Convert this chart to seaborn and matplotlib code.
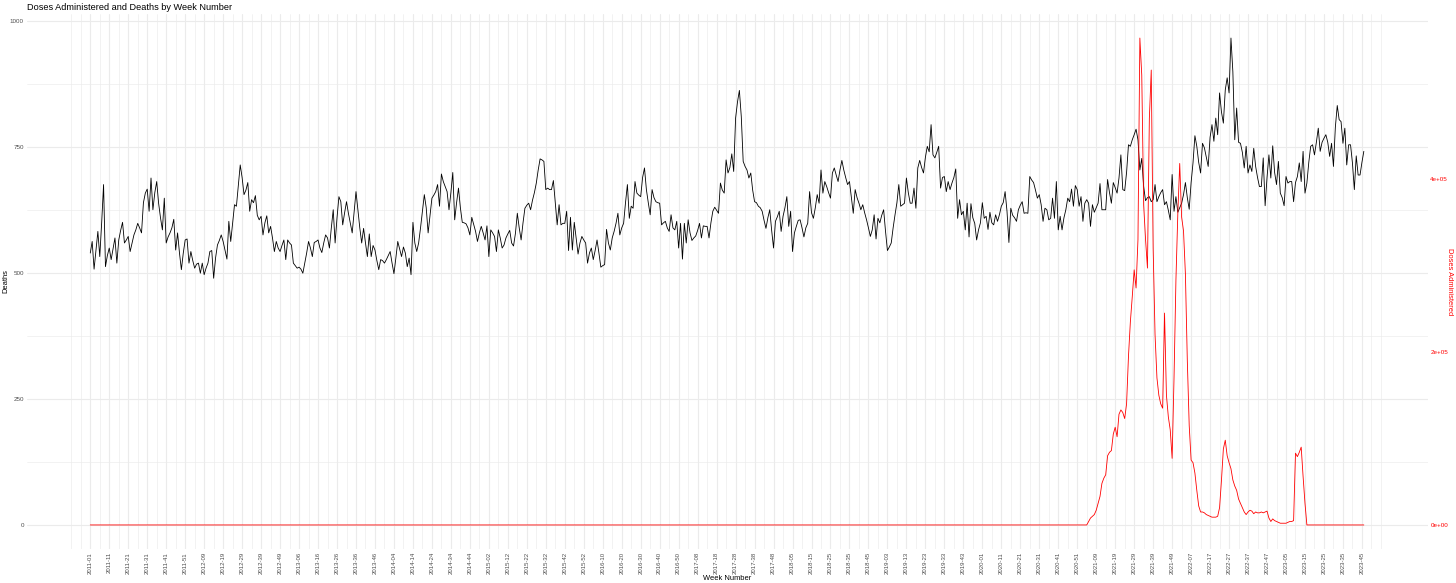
import numpy as np
import pandas as pd
import matplotlib
matplotlib.use("Agg")
import matplotlib.pyplot as plt
import seaborn as sns

# ---------------- data ----------------
years = [2011, 2012, 2013, 2014, 2015, 2016, 2017, 2018, 2019, 2020, 2021, 2022, 2023]
weeks_per_year = [52, 53, 52, 52, 52, 52, 53, 52, 52, 52, 52, 52, 46]

deaths = [
    540, 563, 508, 545, 583, 533, 600, 676, 513, 535,
    550, 527, 548, 570, 520, 566, 585, 601, 560, 566,
    573, 543, 560, 576, 586, 599, 590, 580, 640, 659,
    667, 623, 689, 626, 660, 682, 639, 610, 586, 649,
    560, 572, 580, 590, 607, 546, 580, 540, 507, 540,
    566, 568, 520, 543, 525, 510, 518, 520, 500, 520,
    497, 510, 520, 543, 545, 490, 530, 556, 565, 576,
    563, 545, 528, 603, 563, 600, 636, 633, 675, 715,
    690, 656, 665, 680, 623, 646, 640, 654, 615, 606,
    613, 576, 600, 614, 580, 593, 570, 543, 563, 550,
    543, 555, 566, 527, 566, 560, 556, 520, 515, 510,
    512, 508, 500, 520, 540, 563, 550, 533, 561, 563,
    566, 550, 541, 560, 576, 570, 550, 590, 626, 560,
    610, 652, 642, 596, 620, 642, 619, 600, 580, 620,
    662, 626, 590, 560, 589, 560, 533, 578, 533, 555,
    546, 525, 507, 527, 525, 520, 527, 535, 543, 520,
    499, 530, 563, 548, 533, 552, 540, 513, 530, 497,
    601, 560, 543, 560, 590, 623, 656, 630, 580, 615,
    649, 655, 662, 676, 633, 697, 682, 672, 662, 626,
    660, 700, 606, 640, 669, 630, 601, 600, 598, 590,
    576, 611, 597, 583, 563, 580, 593, 580, 566, 594,
    533, 586, 580, 573, 543, 586, 570, 550, 556, 570,
    578, 585, 560, 554, 579, 619, 590, 566, 600, 629,
    635, 639, 626, 645, 660, 679, 705, 727, 725, 722,
    666, 669, 666, 666, 684, 640, 596, 636, 596, 599,
    599, 623, 545, 611, 546, 601, 570, 538, 560, 573,
    566, 560, 520, 540, 550, 527, 545, 566, 540, 512,
    515, 517, 587, 560, 546, 570, 583, 599, 619, 576,
    590, 599, 640, 676, 609, 633, 629, 682, 659, 655,
    652, 690, 709, 666, 640, 616, 666, 650, 642, 640,
    639, 596, 600, 603, 590, 583, 616, 590, 586, 603,
    550, 599, 528, 599, 560, 606, 580, 565, 570, 574,
    585, 599, 570, 594, 593, 593, 570, 600, 623, 631,
    625, 619, 679, 665, 659, 725, 699, 710, 737, 702,
    808, 840, 863, 811, 722, 712, 705, 689, 699, 665,
    642, 640, 633, 630, 623, 605, 589, 610, 626, 585,
    550, 603, 612, 623, 583, 613, 630, 652, 593, 623,
    543, 580, 593, 605, 606, 590, 572, 590, 599, 662,
    620, 609, 630, 656, 639, 705, 659, 682, 672, 660,
    649, 699, 709, 695, 682, 705, 724, 705, 690, 676,
    682, 650, 619, 666, 650, 639, 626, 636, 620, 606,
    590, 573, 586, 616, 568, 609, 600, 615, 626, 583,
    545, 552, 560, 590, 616, 640, 676, 633, 636, 639,
    689, 660, 639, 639, 669, 629, 709, 724, 710, 699,
    730, 752, 741, 795, 735, 729, 740, 752, 669, 690,
    692, 662, 682, 666, 679, 690, 707, 609, 646, 616,
    623, 586, 639, 572, 638, 610, 599, 566, 586, 600,
    640, 609, 613, 587, 621, 600, 596, 616, 603, 616,
    633, 640, 662, 623, 561, 629, 615, 610, 603, 626,
    635, 642, 619, 620, 619, 692, 685, 680, 665, 649,
    656, 636, 603, 629, 626, 606, 609, 649, 609, 682,
    586, 613, 586, 610, 626, 649, 642, 667, 633, 674,
    666, 633, 652, 603, 639, 646, 639, 593, 636, 621,
    630, 639, 678, 626, 626, 626, 686, 660, 639, 680,
    670, 659, 689, 735, 666, 664, 700, 755, 752, 765,
    775, 786, 765, 705, 728, 672, 644, 650, 652, 642,
    646, 676, 642, 652, 660, 666, 636, 642, 625, 606,
    696, 623, 652, 621, 630, 639, 656, 680, 650, 627,
    680, 719, 773, 752, 720, 699, 758, 749, 730, 712,
    770, 795, 762, 808, 775, 858, 820, 798, 864, 888,
    858, 967, 900, 765, 828, 760, 758, 740, 709, 752,
    699, 715, 702, 748, 712, 690, 672, 672, 729, 634,
    690, 735, 689, 753, 700, 676, 722, 659, 650, 634,
    692, 679, 682, 682, 642, 680, 692, 719, 682, 742,
    659, 679, 720, 752, 755, 735, 760, 788, 742, 760,
    768, 775, 760, 732, 758, 712, 790, 833, 805, 801,
    758, 788, 715, 755, 755, 719, 666, 733, 695, 695,
    720, 742,
]

# doses administered, thousands per week (zero before the campaign and after it ended)
doses_before_k = [0] * 525
doses_campaign_k = [
    0, 4, 8, 10, 12, 17, 25, 33, 48, 54,
    58, 80, 84, 86, 105, 113, 102, 128, 133, 130,
    123, 140, 195, 235, 264, 295, 274, 330, 563, 520,
    370, 330, 297, 470, 526, 320, 220, 170, 150, 140,
    135, 245, 150, 125, 110, 77, 170, 283, 360, 418,
    356, 340, 290, 190, 115, 75, 72, 60, 40, 22,
    15, 15, 14, 12, 11, 10, 9, 9, 9, 10,
    20, 52, 88, 98, 80, 72, 65, 52, 45, 40,
    30, 25, 20, 15, 12, 15, 17, 16, 13, 15,
    14, 14, 15, 14, 15, 16, 8, 4, 7, 5,
    4, 3, 2, 2, 2, 2, 3, 4, 4, 5,
    83, 79, 84, 90, 56, 25,
]
doses_after_k = [0] * 31

# ---------------- build table ----------------
week_labels = [f"{y}-{w:02d}" for y, n in zip(years, weeks_per_year) for w in range(1, n + 1)]
doses_k = doses_before_k + doses_campaign_k + doses_after_k
n = len(deaths)
assert len(week_labels) == n and len(doses_k) == n, (len(week_labels), len(doses_k), n)

df = pd.DataFrame({
    "idx": np.arange(n),
    "week": week_labels,
    "deaths": deaths,
    "doses": np.array(doses_k) * 1000,
})
scale = df["doses"].max() / df["deaths"].max()

# ---------------- style ----------------
sns.set_theme(style="white")
plt.rcParams["font.family"] = ["Liberation Sans", "DejaVu Sans"]

W, H = 1456, 583
fig = plt.figure(figsize=(W / 100, H / 100), dpi=100)
pl, pr, pt, pb = 26.6, 1427.5, 13.7, 549.3
ax = fig.add_axes([pl / W, 1 - pb / H, (pr - pl) / W, (pb - pt) / H])

grid_c = "#EBEBEB"

sns.lineplot(data=df, x="idx", y="deaths", ax=ax, color="black", linewidth=0.6)
ax2 = ax.twinx()
sns.lineplot(data=df, x="idx", y="doses", ax=ax2, color="red", linewidth=0.6)

# limits with ggplot-like 5% expansion
xr = n - 1
ax.set_xlim(-0.05 * xr, xr * 1.05)
ymax = df["deaths"].max()
ax.set_ylim(-0.05 * ymax, ymax * 1.05)
ax2.set_ylim(ax.get_ylim()[0] * scale, ax.get_ylim()[1] * scale)

# grids
major_x = np.arange(0, n, 10)
minor_x = np.array([v for v in np.arange(-10, major_x[-1] + 15, 5) if v not in set(major_x)])
ax.set_xticks(major_x)
ax.set_xticks(minor_x, minor=True)
ax.set_xticklabels([week_labels[i] for i in major_x], rotation=90, fontsize=4.3, color="#4D4D4D")
ax.set_yticks([0, 250, 500, 750, 1000])
ax.set_yticks([125, 375, 625, 875], minor=True)
ax.set_yticklabels(["0", "250", "500", "750", "1000"], fontsize=4.5, color="#4D4D4D")
ax.grid(which="major", color=grid_c, linewidth=0.8)
ax.grid(which="minor", color=grid_c, linewidth=0.45)
ax.set_axisbelow(True)
ax.tick_params(which="both", length=0, pad=2)

ax2.set_yticks([0, 2e5, 4e5])
ax2.set_yticklabels(["0e+00", "2e+05", "4e+05"], fontsize=4.5, color="red")
ax2.tick_params(which="both", length=0, pad=2)
ax2.grid(False)

for a in (ax, ax2):
    for s in a.spines.values():
        s.set_visible(False)
    a.set_xlabel("")
    a.set_ylabel("")
ax2.patch.set_visible(False)

# texts
fig.text(pl / W, 1 - 3 / H, "Doses Administered and Deaths by Week Number",
         ha="left", va="top", fontsize=6.6, color="black")
fig.text((pl + pr) / 2 / W, 1 - 578 / H, "Week Number",
         ha="center", va="center", fontsize=5.4, color="black")
fig.text(6 / W, 1 - (pt + pb) / 2 / H, "Deaths", rotation=90,
         ha="center", va="center", fontsize=5.4, color="black")
fig.text(1449.5 / W, 1 - (pt + pb) / 2 / H, "Doses Administered", rotation=270,
         ha="center", va="center", fontsize=5.4, color="red")

fig.savefig("out.png", dpi=100, facecolor="white")
